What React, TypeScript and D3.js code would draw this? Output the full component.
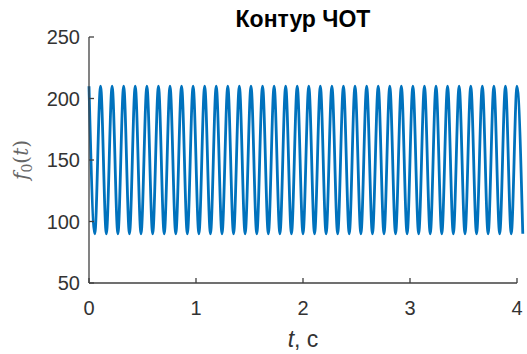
import React from "react";
import * as d3 from "d3";

// Times (s) of the crests and troughs of the f0 contour
const peakTimes = [
  0.0, 0.108, 0.216, 0.324, 0.432, 0.541, 0.649, 0.757, 0.865, 0.973,
  1.081, 1.189, 1.297, 1.405, 1.514, 1.622, 1.73, 1.838, 1.946, 2.054,
  2.162, 2.27, 2.378, 2.486, 2.595, 2.703, 2.811, 2.919, 3.027, 3.135,
  3.243, 3.351, 3.459, 3.568, 3.676, 3.784, 3.892, 4.0,
];
const troughTimes = [
  0.054, 0.162, 0.27, 0.378, 0.486, 0.595, 0.703, 0.811, 0.919, 1.027,
  1.135, 1.243, 1.351, 1.459, 1.568, 1.676, 1.784, 1.892, 2.0, 2.108,
  2.216, 2.324, 2.432, 2.541, 2.649, 2.757, 2.865, 2.973, 3.081, 3.189,
  3.297, 3.405, 3.514, 3.622, 3.73, 3.838, 3.946, 4.054,
];
const peakValue = 210;
const troughValue = 90;

const xTicks = [0, 1, 2, 3, 4];
const yTicks = [50, 100, 150, 200, 250];
const title = "Контур ЧОТ";

const W = 527;
const H = 354;
const left = 89;
const right = 517;
const top = 37;
const bottom = 283;
const axisColor = "#404040";
const labelColor = "#333333";
const font = "'Liberation Sans', Arial, Helvetica, sans-serif";

export default function App() {
  const x = d3.scaleLinear().domain([0, 4]).range([left, right]);
  const y = d3.scaleLinear().domain([50, 250]).range([bottom, top]);

  const points: [number, number][] = [
    ...peakTimes.map((t) => [t, peakValue] as [number, number]),
    ...troughTimes.map((t) => [t, troughValue] as [number, number]),
  ].sort((a, b) => a[0] - b[0]);

  const line = d3
    .line<[number, number]>()
    .x((d) => x(d[0]))
    .y((d) => y(d[1]))
    .curve(d3.curveMonotoneX);

  const path = line(points) || "";
  const tickLen = 5;

  return (
    <svg
      width={W}
      height={H}
      style={{ position: "absolute", left: 0, top: 0, background: "#fff" }}
    >
      <rect x={0} y={0} width={W} height={H} fill="#fff" />
      <path
        d={path}
        fill="none"
        stroke="#0072BD"
        strokeWidth={2.8}
        strokeLinejoin="round"
      />
      {/* axes */}
      <line x1={left} x2={left} y1={top} y2={bottom} stroke={axisColor} strokeWidth={1.3} />
      <line x1={left} x2={right} y1={bottom} y2={bottom} stroke={axisColor} strokeWidth={1.3} />
      {yTicks.map((v) => (
        <g key={"y" + v}>
          <line x1={left} x2={left + tickLen} y1={y(v)} y2={y(v)} stroke={axisColor} strokeWidth={1.3} />
          <text
            x={left - 9}
            y={y(v)}
            dy="0.36em"
            textAnchor="end"
            fontFamily={font}
            fontSize={20}
            fill={labelColor}
          >
            {v}
          </text>
        </g>
      ))}
      {xTicks.map((v) => (
        <g key={"x" + v}>
          <line x1={x(v)} x2={x(v)} y1={bottom} y2={bottom - tickLen} stroke={axisColor} strokeWidth={1.3} />
          <text
            x={x(v)}
            y={bottom + 32}
            textAnchor="middle"
            fontFamily={font}
            fontSize={20}
            fill={labelColor}
          >
            {v}
          </text>
        </g>
      ))}
      <text
        x={(left + right) / 2}
        y={27}
        textAnchor="middle"
        fontFamily={font}
        fontSize={23}
        fontWeight="bold"
        fill="#000"
      >
        {title}
      </text>
      <text
        x={(left + right) / 2}
        y={347}
        textAnchor="middle"
        fontFamily={font}
        fontSize={23}
        fill={labelColor}
      >
        <tspan fontStyle="italic">t</tspan>, с
      </text>
      <text
        transform={`translate(28, ${(top + bottom) / 2}) rotate(-90)`}
        textAnchor="middle"
        fontFamily="'DejaVu Serif', 'Liberation Serif', serif"
        fontSize={20}
        fill="#666"
      >
        <tspan fontStyle="italic">f</tspan>
        <tspan fontSize={14} dy={4}>0</tspan>
        <tspan dy={-4}>(</tspan>
        <tspan fontStyle="italic">t</tspan>
        <tspan>)</tspan>
      </text>
    </svg>
  );
}
